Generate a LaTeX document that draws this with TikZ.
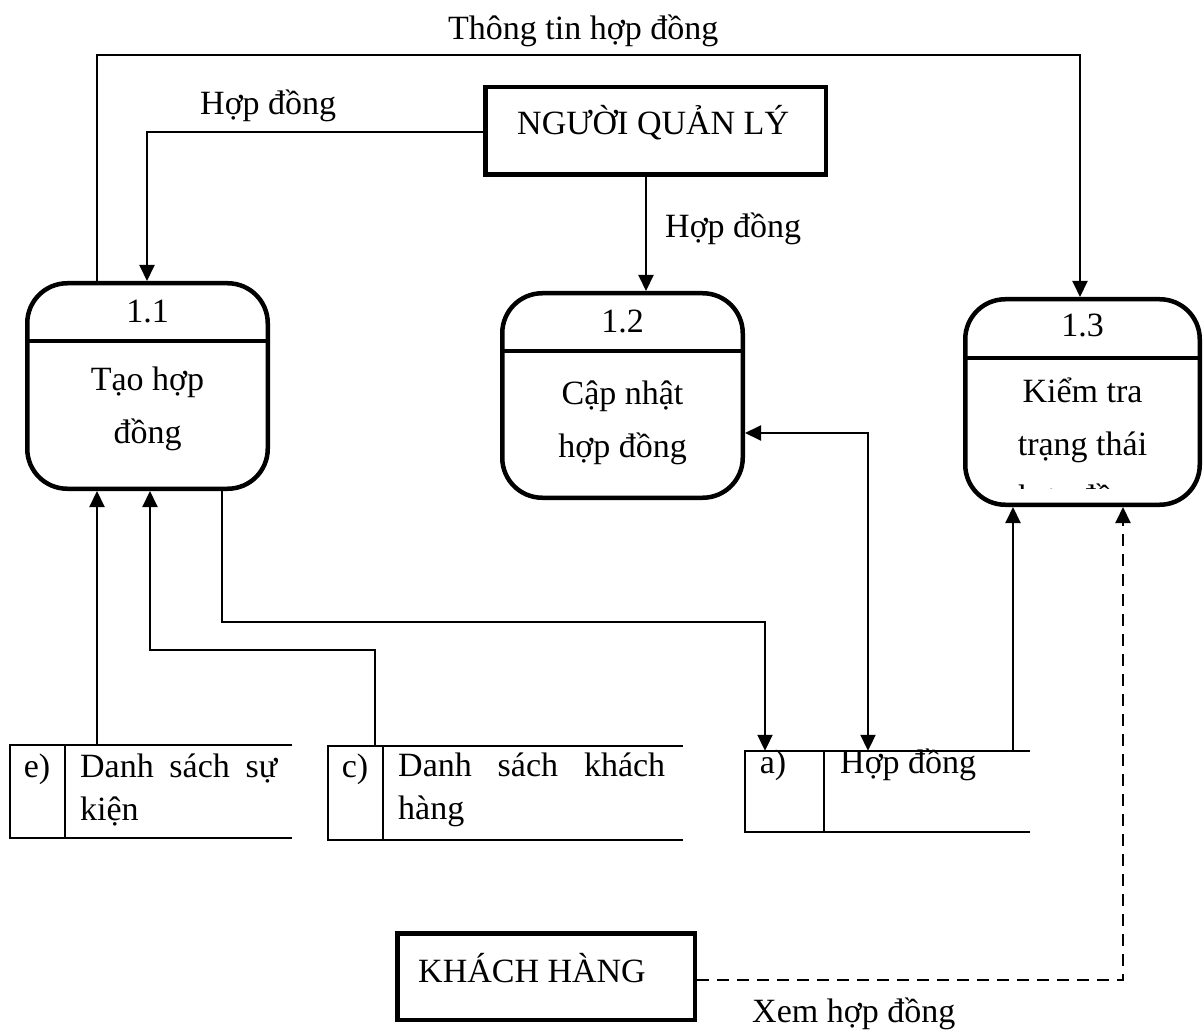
\documentclass[tikz,border=0pt]{standalone}
\usepackage{fontspec}
\setmainfont{Liberation Serif}
\usetikzlibrary{arrows.meta}
\begin{document}
\begin{tikzpicture}[x=1pt,y=-1pt,
  >={Triangle[width=15pt,length=16pt]},
  every node/.style={font=\fontsize{34}{53}\selectfont, inner sep=0pt},
  proc/.style={draw, rectangle, line width=4.5pt, rounded corners=40pt},
  ext/.style={draw, rectangle, line width=4.5pt},
  store/.style={rectangle, inner sep=0pt},
  storeline/.style={line width=2pt},
  storetext/.style={font=\fontsize{34}{43}\selectfont, anchor=base west, align=left},
  flow/.style={line width=2pt, ->},
  flow2/.style={line width=2pt, <->},
  label/.style={anchor=base west},
]
\useasboundingbox (0,0) rectangle (1203,1032);

% processes
\node[proc, minimum width=240.5, minimum height=205.5] (p11) at (147.5,386) {};
\node[proc, minimum width=240.5, minimum height=204.5] (p12) at (622.5,395.5) {};
\node[proc, minimum width=234.5, minimum height=205.5] (p13) at (1082.5,402) {};
\draw[line width=4.5pt] (p11.west |- 0,341) -- (p11.east |- 0,341);
\draw[line width=4.5pt] (p12.west |- 0,351) -- (p12.east |- 0,351);
\draw[line width=4.5pt] (p13.west |- 0,358) -- (p13.east |- 0,358);

\node[anchor=base] (n11) at (147.5,323) {1.1};
\node[anchor=base] (n12) at (622.5,333) {1.2};
\node[anchor=base] (n13) at (1082.5,337) {1.3};
% multi-line texts are placed by the baseline of their last line
\node[anchor=base, align=center] (t11) at (147.5,443) {Tạo hợp\\đồng};
\node[anchor=base, align=center] (t12) at (622.5,457) {Cập nhật\\hợp đồng};
\begin{scope}
  \clip (963,358) rectangle (1202,488);
  \node[anchor=base, align=center] (t13) at (1082.5,508) {Kiểm tra\\trạng thái\\hợp đồng};
\end{scope}

% external entities
\node[ext, minimum width=340.5, minimum height=87.5] (nql) at (655.5,131) {};
\node[anchor=base west] (nqltext) at (517,135) {NGƯỜI QUẢN LÝ};
\node[ext, minimum width=297.5, minimum height=86.5] (kh) at (546,976.5) {};
\node[anchor=base west] (khtext) at (418,982) {KHÁCH HÀNG};

% data stores
\node[store, minimum width=282, minimum height=93] (dse) at (151,791.5) {};
\node[store, minimum width=355, minimum height=94] (dsc) at (505.5,793) {};
\node[store, minimum width=285, minimum height=81] (dsa) at (887.5,791.5) {};
\foreach \s/\d in {dse/65, dsc/383, dsa/824} {
  \draw[storeline] (\s.north east) -- (\s.north west) -- (\s.south west) -- (\s.south east);
  \draw[storeline] (\s.north -| \d,0) -- (\s.south -| \d,0);
}
\node[anchor=base] (ide) at (37,777) {e)};
\node[storetext] (tde) at (80,820) {\makebox[197pt][s]{Danh sách sự}\\kiện};
\node[anchor=base] (idc) at (355,777) {c)};
\node[storetext] (tdc) at (398,819) {\makebox[267pt][s]{Danh sách khách}\\hàng};
\node[anchor=base] (ida) at (773,773) {a)};
\node[storetext] (tda) at (840,773) {Hợp đồng};

% data flows
\draw[flow] (p11.north -| 97,0) -- (97,55) -| (p13.north -| 1080,0);
\draw[flow] (nql.west |- 0,132) -| (p11.north -| 147,0);
\draw[flow] (nql.south -| 646,0) -- (p12.north -| 646,0);
\draw[flow] (p11.south -| 222,0) |- (765,622) -- (dsa.north -| 765,0);
\draw[flow] (dsc.north -| 375,0) |- (150,650) -- (p11.south -| 150,0);
\draw[flow] (dse.north -| 97,0) -- (p11.south -| 97,0);
\draw[flow2] (p12.east |- 0,433) -| (dsa.north -| 868,0);
\draw[flow] (dsa.north -| 1013,0) -- (p13.south -| 1013,0);
\draw[flow, dash pattern=on 12pt off 8pt] (kh.east |- 0,980) -| (p13.south -| 1123,0);

% flow labels
\node[label] (l1) at (448,40) {Thông tin hợp đồng};
\node[label] (l2) at (200,115) {Hợp đồng};
\node[label] (l3) at (665,238) {Hợp đồng};
\node[label] (l4) at (752,1022) {Xem hợp đồng};
\end{tikzpicture}
\end{document}
